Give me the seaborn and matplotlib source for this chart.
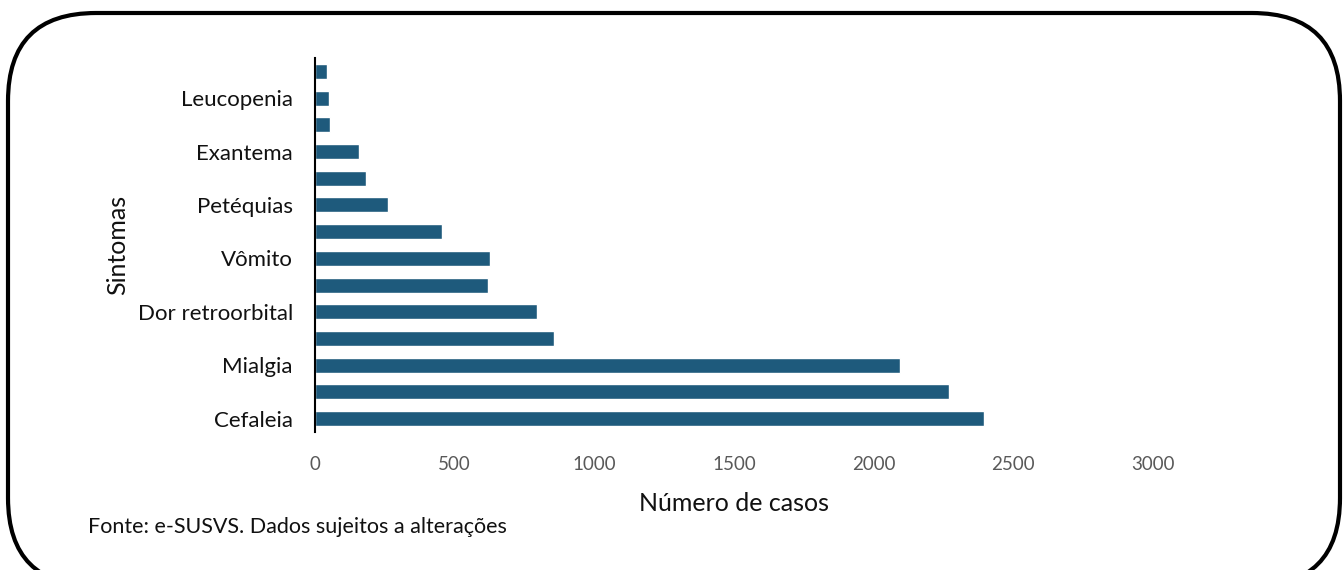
import seaborn as sns
import matplotlib.pyplot as plt
import pandas as pd
from matplotlib.patches import FancyBboxPatch

# Dados (de cima para baixo)
sintomas = ["Prova do laço positiva", "Leucopenia", "Artrite", "Exantema",
            "Conjuntivite", "Petéquias", "Dor nas costas", "Vômito", "Náusea",
            "Dor retroorbital", "Artralgia", "Mialgia", "Febre", "Cefaleia"]
casos = [44, 50, 55, 156, 184, 261, 453, 625, 621, 795, 857, 2093, 2270, 2395]

# o grafico original so mostra um rotulo a cada dois
rotulos = ["", "Leucopenia", "", "Exantema", "", "Petéquias", "", "Vômito", "",
           "Dor retroorbital", "", "Mialgia", "", "Cefaleia"]

x_ticks = [0, 500, 1000, 1500, 2000, 2500, 3000]

df = pd.DataFrame({"Sintomas": sintomas, "Casos": casos})

sns.set_theme(style="white")
plt.rcParams["font.family"] = ["Lato", "DejaVu Sans"]

fig = plt.figure(figsize=(13.44, 5.7), dpi=100)
ax = fig.add_axes([0.2344, 0.2421, 0.6235, 0.6561])

sns.barplot(data=df, x="Casos", y="Sintomas", orient="h", color="#1E5A7C",
            width=0.56, saturation=1, ax=ax)

ax.set_xlim(0, 3000)
ax.set_ylim(13.5, -0.5)
ax.set_xticks(x_ticks)
ax.set_xticklabels([str(t) for t in x_ticks], color="#595959", fontsize=13.5)
ax.set_yticks(range(len(sintomas)))
ax.set_yticklabels(rotulos, color="#111111", fontsize=16)
ax.tick_params(axis="both", length=0)
ax.tick_params(axis="y", pad=16)
ax.tick_params(axis="x", pad=17)

# so a linha do eixo y fica visivel
for lado in ["top", "right", "bottom"]:
    ax.spines[lado].set_visible(False)
ax.spines["left"].set_color("black")
ax.spines["left"].set_linewidth(1.5)

ax.set_xlabel("Número de casos", fontsize=18, color="#111111", labelpad=14)
ax.set_ylabel("Sintomas", fontsize=18, color="#111111", labelpad=6)

fig.text(88 / 1344, 1 - 527 / 570, "Fonte: e-SUSVS. Dados sujeitos a alterações",
         fontsize=15.5, color="#111111", va="center", ha="left")

# moldura arredondada em volta do grafico
moldura = FancyBboxPatch((0.08, -0.16), 13.32, 5.73,
                         boxstyle="round,pad=0,rounding_size=0.88",
                         transform=fig.dpi_scale_trans, fill=False,
                         edgecolor="black", linewidth=3, clip_on=False)
fig.patches.append(moldura)

fig.savefig("out.png", dpi=100)
